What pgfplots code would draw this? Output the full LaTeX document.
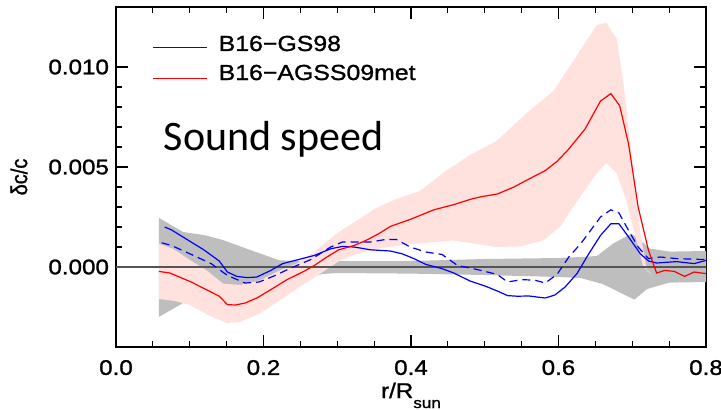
\documentclass[border=0pt]{standalone}
\usepackage{fontspec}
\setmainfont{Liberation Sans}[FakeStretch=1.14, FakeBold=1.2]
\newfontfamily\plainsans{Liberation Sans}[FakeBold=1.2]
\newfontfamily\calibri{Carlito}
\usepackage{graphicx}
\usepackage{pgfplots}
\usepackage{pgfplotstable}
\pgfplotsset{compat=1.18}
\usepgfplotslibrary{fillbetween}

\definecolor{bandgrey}{RGB}{190,190,190}
\definecolor{bandpink}{RGB}{255,225,222}
\definecolor{zeroline}{RGB}{85,85,85}

% grey band (helioseismic uncertainty)
\pgfplotstableread{
x y
0.058 0.00246
0.091 0.00175
0.119 0.00160
0.145 0.00135
0.182 0.00085
0.222 0.00033
0.268 0.00030
0.300 0.00030
0.400 0.00030
0.500 0.00040
0.600 0.00045
0.630 0.00050
0.652 0.00055
0.674 0.00117
0.699 0.00167
0.712 0.00130
0.724 0.00092
0.751 0.00077
0.800 0.00080
}\greyup
\pgfplotstableread{
x y
0.058 -0.00250
0.091 -0.00180
0.120 -0.00160
0.150 -0.00140
0.200 -0.00100
0.250 -0.00060
0.280 -0.00035
0.300 -0.00030
0.400 -0.00033
0.500 -0.00040
0.600 -0.00050
0.630 -0.00055
0.660 -0.00085
0.690 -0.00140
0.703 -0.00163
0.720 -0.00110
0.750 -0.00078
0.800 -0.00075
}\greylo

% pink band (model uncertainty, AGSS09met)
\pgfplotstableread{
x y
0.058 0.00116
0.078 0.00090
0.100 0.00035
0.123 -0.00017
0.145 -0.00083
0.168 -0.00090
0.195 -0.00067
0.222 -0.00017
0.245 0.00017
0.270 0.00080
0.300 0.00170
0.330 0.00240
0.350 0.00290
0.380 0.00340
0.412 0.00380
0.447 0.00480
0.480 0.00560
0.516 0.00630
0.557 0.00770
0.593 0.00880
0.629 0.01080
0.652 0.01210
0.665 0.01220
0.679 0.01140
0.688 0.00920
0.701 0.00500
0.711 0.00170
0.720 -0.00020
0.728 -0.00040
}\pinkup
\pgfplotstableread{
x y
0.058 -0.00160
0.080 -0.00170
0.100 -0.00190
0.125 -0.00240
0.150 -0.00280
0.168 -0.00275
0.195 -0.00233
0.222 -0.00167
0.249 -0.00100
0.277 -0.00033
0.304 0.00033
0.330 0.00070
0.360 0.00095
0.400 0.00115
0.457 0.00133
0.516 0.00100
0.548 0.00103
0.579 0.00133
0.602 0.00200
0.629 0.00350
0.652 0.00470
0.665 0.00520
0.679 0.00470
0.692 0.00330
0.706 0.00130
0.715 0.00000
0.728 -0.00040
}\pinklo

\pgfplotstableread{
x y
0.058 -0.00022
0.073 -0.00030
0.102 -0.00075
0.140 -0.00146
0.151 -0.00188
0.162 -0.00190
0.175 -0.00180
0.191 -0.00155
0.210 -0.00113
0.232 -0.00063
0.253 -0.00025
0.269 0.00008
0.286 0.00050
0.302 0.00086
0.323 0.00108
0.339 0.00133
0.356 0.00166
0.372 0.00203
0.399 0.00238
0.431 0.00286
0.458 0.00312
0.482 0.00340
0.496 0.00352
0.517 0.00365
0.539 0.00399
0.560 0.00440
0.582 0.00482
0.598 0.00528
0.614 0.00590
0.636 0.00690
0.657 0.00830
0.671 0.00867
0.683 0.00806
0.695 0.00615
0.708 0.00300
0.722 0.00083
0.733 -0.00030
0.744 -0.00017
0.757 -0.00022
0.771 -0.00047
0.784 -0.00025
0.800 -0.00033
}\agss

\pgfplotstableread{
x y
0.066 0.00200
0.075 0.00186
0.097 0.00136
0.119 0.00086
0.140 0.00030
0.151 -0.00025
0.164 -0.00047
0.178 -0.00053
0.191 -0.00050
0.210 -0.00017
0.226 0.00017
0.248 0.00038
0.269 0.00058
0.291 0.00091
0.307 0.00103
0.323 0.00100
0.345 0.00086
0.372 0.00080
0.388 0.00066
0.404 0.00042
0.420 0.00013
0.442 -0.00008
0.458 -0.00030
0.480 -0.00070
0.501 -0.00096
0.517 -0.00120
0.531 -0.00143
0.544 -0.00146
0.560 -0.00145
0.582 -0.00155
0.595 -0.00140
0.609 -0.00100
0.625 -0.00033
0.641 0.00066
0.657 0.00158
0.671 0.00216
0.682 0.00216
0.695 0.00150
0.711 0.00066
0.722 0.00030
0.733 0.00020
0.760 0.00027
0.784 0.00017
0.800 0.00033
}\gs

\pgfplotstableread{
x y
0.062 0.00121
0.075 0.00108
0.102 0.00063
0.129 0.00017
0.151 -0.00042
0.175 -0.00080
0.194 -0.00075
0.216 -0.00042
0.237 -0.00005
0.264 0.00037
0.291 0.00100
0.307 0.00125
0.323 0.00125
0.345 0.00125
0.366 0.00138
0.380 0.00138
0.399 0.00100
0.420 0.00075
0.442 0.00063
0.463 0.00008
0.490 -0.00013
0.517 -0.00037
0.531 -0.00075
0.550 -0.00063
0.568 -0.00066
0.582 -0.00080
0.598 -0.00037
0.614 0.00050
0.630 0.00116
0.657 0.00250
0.671 0.00286
0.682 0.00270
0.695 0.00183
0.708 0.00100
0.722 0.00042
0.738 0.00050
0.760 0.00042
0.800 0.00037
}\gsdash

\begin{document}
\begin{tikzpicture}
\begin{axis}[
  scale only axis,
  width=295pt, height=170pt,
  xmin=0, xmax=0.8, ymin=-0.004, ymax=0.013,
  xtick={0,0.2,0.4,0.6,0.8},
  ytick={0,0.005,0.010},
  minor x tick num=3, minor y tick num=4,
  tick align=inside,
  major tick length=6pt, minor tick length=3pt,
  every tick/.style={black, line width=0.6pt},
  axis line style={line width=0.9pt},
  scaled y ticks=false,
  /pgf/number format/assume math mode=true,
  tick label style={font=\fontsize{10.6}{12}\selectfont},
  x tick label style={yshift=-3pt, /pgf/number format/.cd, fixed, fixed zerofill, precision=1},
  y tick label style={/pgf/number format/.cd, fixed, fixed zerofill, precision=3},
  ylabel={\scalebox{1}[1.14]{\plainsans\fontsize{10}{12}\selectfont δc/c}},
  ylabel style={at={(axis description cs:0,0.5)}, anchor=center, yshift=48.5pt},
  xlabel={r/R\raisebox{-5pt}{\fontsize{7.5}{8}\selectfont sun}},
  xlabel style={at={(axis description cs:0.5,0)}, anchor=base, yshift=-25.5pt, font=\fontsize{10.6}{12}\selectfont},
  legend style={at={(axis description cs:0.0622,0.9088)}, anchor=north west,
    draw=none, fill=none, inner sep=0pt, outer sep=0pt,
    row sep=10.2pt, nodes={inner sep=0pt}},
  % key drawn as a thin filled bar (fill colour), not a stroke
  legend image code/.code={\fill[#1, draw=none] (0pt,-0.3pt) rectangle (27pt,0.3pt); \path (0pt,4.3pt);},
]
\addplot[name path=gu, draw=none, forget plot] table {\greyup};
\addplot[name path=gl, draw=none, forget plot] table {\greylo};
\addplot[fill=bandgrey, draw=none, forget plot] fill between[of=gu and gl];
\addplot[name path=pu, draw=none, forget plot] table {\pinkup};
\addplot[name path=pl, draw=none, forget plot] table {\pinklo};
\addplot[fill=bandpink, draw=none, forget plot] fill between[of=pu and pl];
\addplot[zeroline, line width=0.75pt, forget plot] coordinates {(0,0) (0.8,0)};
\addplot[blue, line width=0.6pt, dash pattern=on 4pt off 2.5pt, forget plot] table {\gsdash};
\addplot[blue, line width=0.6pt] table {\gs};
\addlegendentry{}
\addplot[red, line width=0.6pt] table {\agss};
\addlegendentry{}
% legend texts (the keys above are drawn by pgfplots' legend)
\node[anchor=base west, inner sep=0pt, font=\fontsize{10.9}{13}\selectfont]
  at (rel axis cs:0.1734,0.8706) {B16−GS98};
\node[anchor=base west, inner sep=0pt, font=\fontsize{10.9}{13}\selectfont]
  at (rel axis cs:0.1734,0.7853) {B16−AGSS09met};
\node[anchor=base west, inner sep=0pt, font=\calibri\fontsize{21}{25}\selectfont]
  at (rel axis cs:0.0805,0.5776) {Sound speed};
\end{axis}
\pgfresetboundingbox
\path (-58pt,-31pt) rectangle (302.5pt,173.5pt);
\end{tikzpicture}
\end{document}
